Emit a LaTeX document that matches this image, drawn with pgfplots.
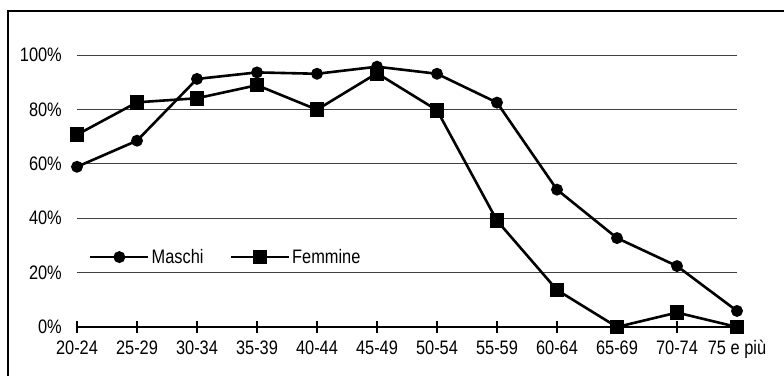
\documentclass[border=0pt]{standalone}
\usepackage{fontspec}
\setmainfont{Liberation Sans}[FakeStretch=0.84]
\usepackage{pgfplots}
\pgfplotsset{compat=1.18}
\begin{document}
\begin{tikzpicture}[font=\fontsize{19.5bp}{22bp}\selectfont]
\useasboundingbox (-77bp,-49bp) rectangle (707bp,327bp);
\draw[line width=2bp] (-69bp,-80bp) -- (-69bp,316bp) -- (740bp,316bp);
\begin{axis}[
  at={(0,0)}, anchor=south west,
  scale only axis, width=660bp, height=272bp,
  xmin=0, xmax=11, ymin=0, ymax=100,
  clip=false,
  axis x line*=bottom, axis y line*=left,
  y axis line style={draw=none},
  x axis line style={line width=2.8bp, -},
  xtick={0,...,11},
  xticklabels={20-24,25-29,30-34,35-39,40-44,45-49,50-54,55-59,60-64,65-69,70-74,75 e più},
  ytick={0,20,40,60,80,100},
  yticklabel={\pgfmathprintnumber{\tick}\%},
  /pgf/number format/assume math mode=true,
  xtick align=center,
  major tick length=12bp,
  xtick style={line width=1.6bp, black},
  ytick style={draw=none},
  ymajorgrids,
  grid style={black!75, line width=0.8bp},
  tick label style={font=\fontsize{19.5bp}{22bp}\selectfont, black},
  xticklabel style={yshift=-4bp},
  yticklabel style={anchor=east, inner sep=0pt, xshift=-15bp},
  legend style={at={(0.018,0.257)}, anchor=west, draw=none, fill=none, inner sep=0pt,
    font=\fontsize{19.5bp}{22bp}\selectfont},
  legend columns=2,
  /tikz/every even column/.append style={column sep=24bp},
  legend image code/.code={\draw[mark repeat=2,mark phase=2,#1] plot coordinates {(0bp,0bp) (29bp,0bp) (58bp,0bp)};},
]
\addplot[black, line width=2.6bp, mark=*, mark size=4.6bp, mark options={solid, fill=black}]
  coordinates {(0,58.9) (1,68.5) (2,91.2) (3,93.6) (4,93.1) (5,95.7) (6,93.1) (7,82.5) (8,50.5) (9,32.7) (10,22.4) (11,5.9)};
\addlegendentry{Maschi}
\addplot[black, line width=2.6bp, mark=square*, mark size=6bp, mark options={solid, fill=black}]
  coordinates {(0,70.7) (1,82.6) (2,84.1) (3,88.9) (4,79.9) (5,93.3) (6,79.7) (7,39.1) (8,13.6) (9,0) (10,5.3) (11,0)};
\addlegendentry{Femmine}
\end{axis}
\end{tikzpicture}
\end{document}
